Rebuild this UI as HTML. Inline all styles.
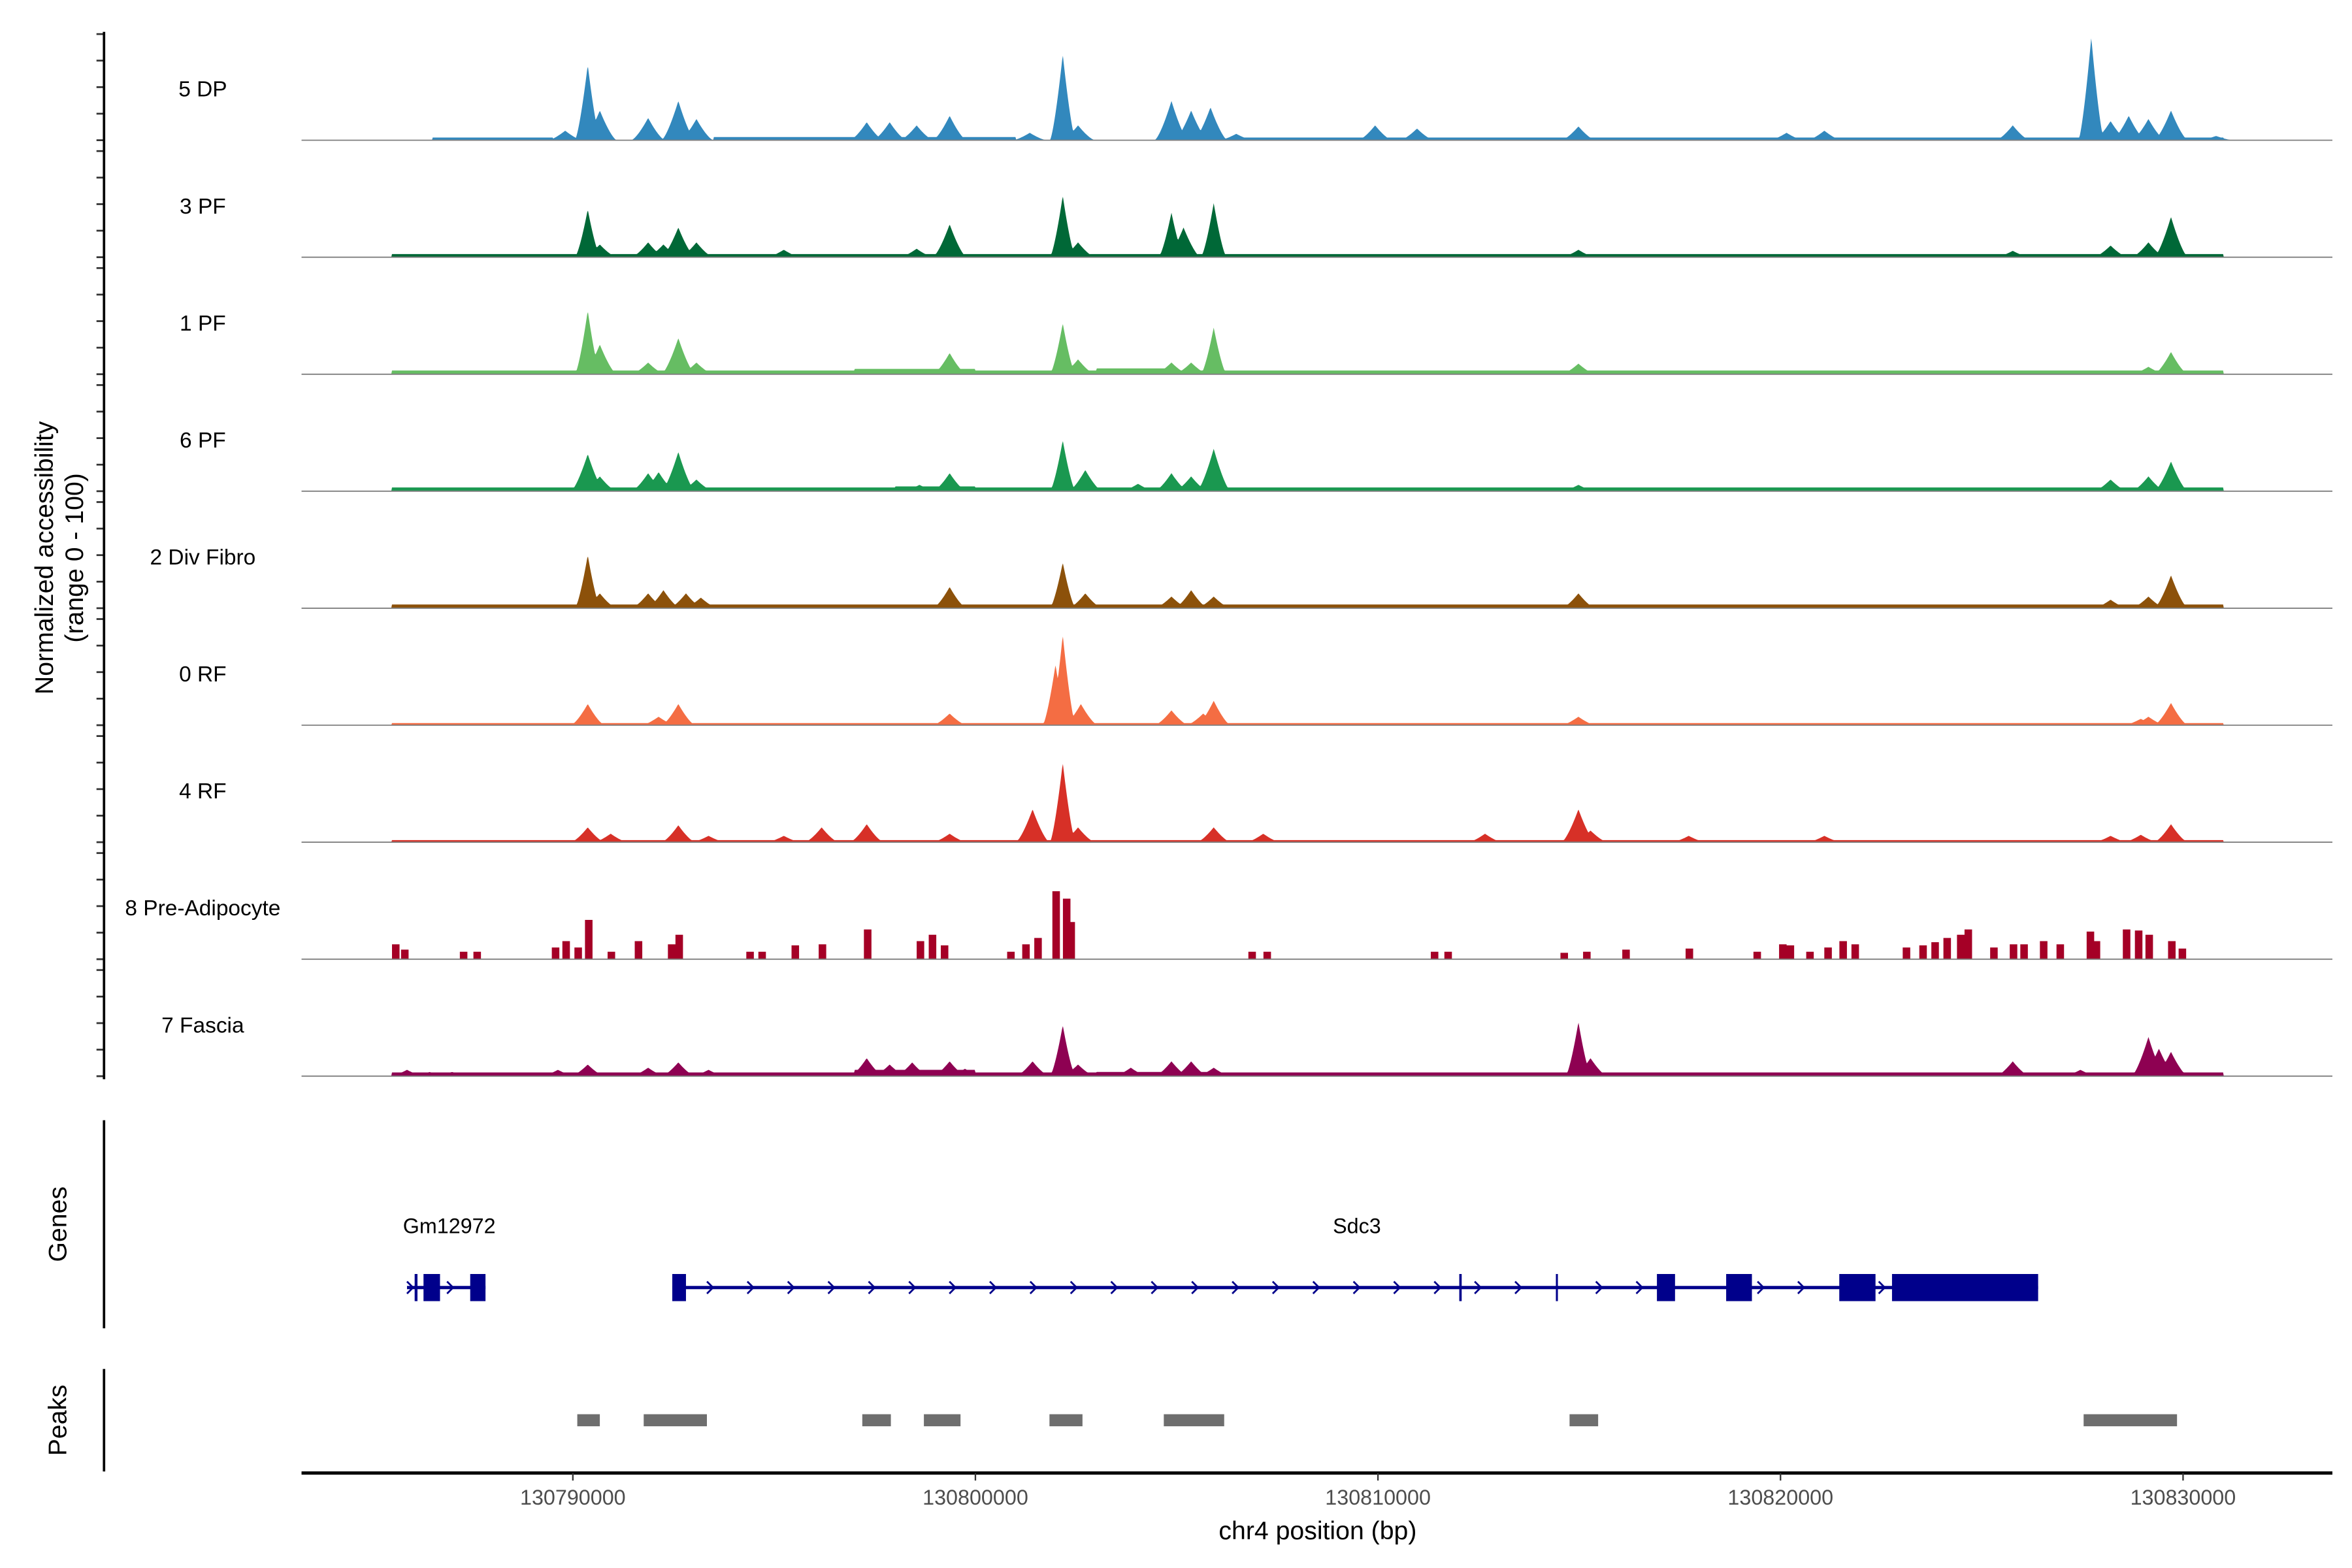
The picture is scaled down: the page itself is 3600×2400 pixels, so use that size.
<!DOCTYPE html>
<html><head><meta charset="utf-8"><style>
html,body{margin:0;padding:0;background:#fff;}
svg{display:block;}
text{font-family:"Liberation Sans",sans-serif;}
</style></head><body>
<svg id="chart" xmlns="http://www.w3.org/2000/svg" width="3600" height="2400" viewBox="0 0 1560 1040">
<g id="tracks"></g>
<g id="yaxis"></g>
<text transform="translate(35,370) rotate(-90)" text-anchor="middle" font-size="17" fill="#000">Normalized accessibility</text>
<text transform="translate(55,370) rotate(-90)" text-anchor="middle" font-size="17" fill="#000">(range 0 - 100)</text>
<line x1="69" y1="743" x2="69" y2="881" stroke="#000" stroke-width="1.6"/>
<text transform="translate(44,812) rotate(-90)" text-anchor="middle" font-size="17">Genes</text>
<g id="genes"></g>
<line x1="69" y1="908" x2="69" y2="976" stroke="#000" stroke-width="1.6"/>
<text transform="translate(44,942) rotate(-90)" text-anchor="middle" font-size="17">Peaks</text>
<g id="peaks"></g>
<g id="xaxis"></g>
<text x="874" y="1021" text-anchor="middle" font-size="17">chr4 position (bp)</text>
</svg>
<script>
// ---- data (positions in kb on chr4, values on 0-100 scale) ----
const trackNames = ["5 DP","3 PF","1 PF","6 PF","2 Div Fibro","0 RF","4 RF","8 Pre-Adipocyte","7 Fascia"];
const trackColors = ["#3288bd","#006837","#66bd63","#1a9850","#8c510a","#f46d43","#d73027","#a50026","#8e0152"];
const xTicks = [130790,130800,130810,130820,130830];
const xTickLabels = ["130790000","130800000","130810000","130820000","130830000"];
const yTickValues = [0,25,50,75,100];

const pos0 = [130789.81,130790.37,130790.67,130791.87,130792.62,130793.07,130797.30,130797.87,130798.54,130799.36,130801.35,130802.17,130802.55,130804.87,130805.36,130805.84,130806.48,130809.93,130810.97,130814.98,130820.15,130821.09,130825.77,130827.72,130828.20,130828.65,130829.14,130829.70,130830.82];
const val0 = [9,71,28,21,37,20,17,17,14,23,7,81,14,37,28,31,6,14,11,13,7,9,14,97,18,23,20,28,4];
const pos1 = [130790.37,130790.67,130791.87,130792.25,130792.62,130793.07,130795.24,130798.54,130799.36,130802.17,130802.55,130804.87,130805.17,130805.92,130814.98,130825.77,130828.20,130829.14,130829.70];
const val1 = [45,12,14,12,28,14,7,8,31,58,14,42,28,51,7,6,11,14,38];
const pos2 = [130790.37,130790.67,130791.87,130792.62,130793.07,130799.36,130802.17,130802.55,130804.87,130805.36,130805.92,130814.98,130829.14,130829.70];
const val2 = [60,28,11,34,11,20,48,14,11,11,44,10,7,21];
const pos3 = [130790.37,130790.67,130791.87,130792.13,130792.62,130793.07,130798.61,130799.36,130802.17,130802.73,130804.04,130804.87,130805.36,130805.92,130814.98,130828.20,130829.14,130829.70];
const val3 = [35,14,17,18,37,11,6,17,48,20,7,17,14,40,6,11,14,28];
const pos4 = [130790.37,130790.67,130791.87,130792.25,130792.81,130793.18,130799.36,130802.17,130802.73,130804.87,130805.36,130805.92,130814.98,130828.20,130829.14,130829.70];
const val4 = [50,14,14,17,14,10,20,43,14,11,17,11,14,8,11,31];
const pos5 = [130790.37,130792.13,130792.62,130799.36,130801.99,130802.17,130802.62,130804.87,130805.66,130805.92,130814.98,130828.95,130829.14,130829.70];
const val5 = [20,8,20,11,57,85,20,14,11,23,8,6,8,21];
const pos6 = [130790.37,130790.94,130792.62,130793.37,130795.24,130796.18,130797.30,130799.36,130801.42,130802.17,130802.55,130805.92,130807.15,130812.66,130814.98,130815.28,130817.72,130821.09,130828.20,130828.95,130829.70];
const val6 = [14,8,16,6,6,14,17,8,31,75,14,14,8,8,31,11,6,6,6,7,17];
const pos7 = [130785.58,130785.81,130787.27,130787.60,130789.55,130789.81,130790.11,130790.37,130790.94,130791.61,130792.43,130792.62,130794.38,130794.68,130795.51,130796.18,130797.30,130798.61,130798.91,130799.21,130800.86,130801.24,130801.54,130801.99,130802.25,130802.36,130806.85,130807.23,130811.39,130811.72,130814.61,130815.17,130816.14,130817.72,130819.40,130820.04,130820.22,130820.71,130821.16,130821.54,130821.84,130823.11,130823.52,130823.82,130824.12,130824.46,130824.64,130825.28,130825.77,130826.03,130826.52,130826.93,130827.68,130827.83,130828.58,130828.88,130829.14,130829.70,130829.96];
const val7 = [14,9,7,7,11,17,11,37,7,17,14,23,7,7,13,14,28,17,23,13,7,14,20,64,57,35,7,7,7,7,6,7,9,10,7,14,13,7,11,17,14,11,13,16,20,23,28,11,14,14,17,14,26,17,28,27,23,17,10];
const pos8 = [130785.88,130786.44,130787.00,130789.63,130790.37,130791.87,130792.62,130793.37,130797.30,130797.87,130798.43,130799.36,130799.74,130801.42,130802.17,130802.55,130803.86,130804.87,130805.36,130805.92,130814.98,130815.28,130825.77,130827.45,130829.14,130829.40,130829.70];
const val8 = [6,4,4,6,11,8,13,6,17,11,13,14,7,14,48,11,8,14,14,8,51,17,14,6,37,26,23];
// low background coverage: [start kb, end kb, level]
const floor0 = [[130786.5,130789.5,2.5],[130793.5,130801,3],[130806.5,130831,2.5]];
const floor1 = [[130785.5,130831,3]];
const floor2 = [[130785.5,130831,3.5],[130797,130800,5],[130803,130805,5.5]];
const floor3 = [[130785.5,130831,3.5],[130798,130800,4.5]];
const floor4 = [[130785.5,130831,3.5]];
const floor5 = [[130785.5,130831,2]];
const floor6 = [[130785.5,130831,2]];
const floor7 = [];
const floor8 = [[130785.5,130831,3.5],[130797,130800,6],[130803,130806,4]];

// gene model
const gmLine = [130785.88,130787.83];
const gmExons = [[130786.07,130786.14],[130786.29,130786.70],[130787.45,130787.83]];
const sdcLine = [130792.47,130826.40];
const sdcExons = [[130792.47,130792.81],[130812.02,130812.08],[130814.42,130814.47],[130816.93,130817.38],[130818.65,130819.29],[130821.46,130822.36],[130822.77,130826.40]];
const peakStarts = [130790.11,130791.76,130797.19,130798.72,130801.84,130804.68,130814.76,130827.53];
const peakEnds   = [130790.67,130793.33,130797.90,130799.63,130802.66,130806.18,130815.47,130829.85];
// ---- end data ----

const NS="http://www.w3.org/2000/svg";
const X0=200,X1=1547,D0=130783.26,D1=130833.71;
function xs(kb){return X0+(kb-D0)/(D1-D0)*(X1-X0);}
const TH=70.4;
function base(i){return 93+i*77.6;}
function mk(tag,attrs,parent){const e=document.createElementNS(NS,tag);for(const k in attrs)e.setAttribute(k,attrs[k]);parent.appendChild(e);return e;}

const allPos=[pos0,pos1,pos2,pos3,pos4,pos5,pos6,pos7,pos8];
const allVal=[val0,val1,val2,val3,val4,val5,val6,val7,val8];
const allFloor=[floor0,floor1,floor2,floor3,floor4,floor5,floor6,floor7,floor8];
const tracks=document.getElementById('tracks');
const yaxis=document.getElementById('yaxis');
for(let i=0;i<9;i++){
  const b=base(i), P=allPos[i], V=allVal[i], F=allFloor[i];
  const blocky=(i===7);
  let d="M"+X0+","+b;
  const step=blocky?1.0:0.5;
  for(let x=X0;x<=X1;x+=step){
    const kb=D0+(x-X0)/(X1-X0)*(D1-D0);
    let v=0;
    for(const f of F){if(kb>=f[0]&&kb<=f[1])v=Math.max(v,f[2]);}
    for(let j=0;j<P.length;j++){
      const dd=Math.abs(kb-P[j]);
      let k;
      if(blocky){k=dd<0.09?1:0;}
      else{const w=V[j]>40?0.32:0.42;k=Math.pow(Math.max(0,1-dd/w),1.4);}
      v=Math.max(v,V[j]*k);
    }
    const y=b-v/100*TH;
    if(blocky){d+=" L"+x.toFixed(1)+","+y.toFixed(2)+" L"+(x+step).toFixed(1)+","+y.toFixed(2);}
    else d+=" L"+x.toFixed(1)+","+y.toFixed(2);
  }
  d+=" L"+X1+","+b+" Z";
  const g=mk('g',{},tracks);
  
  
  const p=mk('path',{d:d,fill:trackColors[i]},g);
  
  
  const bl=mk('line',{x1:X0,x2:X1,y1:b,y2:b,stroke:'#7f7f7f','stroke-width':0.8},g);
  
  
  const t=mk('text',{x:134.5,y:b-29,'text-anchor':'middle','font-size':14.5},g);
  t.textContent=trackNames[i];
  
  
  for(const tv of yTickValues){
    const ty=b-tv/100*TH;
    const tk=mk('line',{x1:64,x2:69,y1:ty,y2:ty,stroke:'#333','stroke-width':1.2},yaxis);
    
    
  }
}
const yl=mk('line',{x1:69,x2:69,y1:base(0)-TH-1.5,y2:base(8)+2,stroke:'#000','stroke-width':1.6},yaxis);



// genes
const genes=document.getElementById('genes');
const GY=854;
function chevrons(a,b,skip){
  for(let x=a;x<b;x+=26.8){
    let inside=false;for(const s of skip){if(x>s[0]-4&&x<s[1]+4)inside=true;}
    if(inside)continue;
    const c=mk('path',{d:`M${x-2},${GY-4} L${x+2},${GY} L${x-2},${GY+4}`,fill:'none',stroke:'#00008b','stroke-width':1.2},genes);
    
    
  }
}
const gl=mk('line',{x1:xs(gmLine[0]),x2:xs(gmLine[1]),y1:GY,y2:GY,stroke:'#00008b','stroke-width':2.2},genes);


for(const e of gmExons){const r=mk('rect',{x:xs(e[0]),y:GY-9,width:Math.max(1.2,xs(e[1])-xs(e[0])),height:18,fill:'#00008b'},genes);

}
chevrons(xs(gmLine[0])+2,xs(gmLine[0])+3,[]);
chevrons(xs(130786.95),xs(130787.0),[]);
const sl=mk('line',{x1:xs(sdcLine[0]),x2:xs(sdcLine[1]),y1:GY,y2:GY,stroke:'#00008b','stroke-width':2.2},genes);


const sk=sdcExons.map(e=>[xs(e[0]),xs(e[1])]);
for(const e of sdcExons){const w=xs(e[1])-xs(e[0]);
const r=mk('rect',{x:xs(e[0]),y:GY-9,width:Math.max(1.2,w),height:18,fill:'#00008b'},genes);

}
chevrons(xs(sdcLine[0])+25,xs(130822.8),sk);
const g1=mk('text',{x:298,y:818,'text-anchor':'middle','font-size':14},genes);g1.textContent='Gm12972';


const g2=mk('text',{x:900,y:818,'text-anchor':'middle','font-size':14},genes);g2.textContent='Sdc3';



// peaks
const peaks=document.getElementById('peaks');
for(let i=0;i<peakStarts.length;i++){
  const r=mk('rect',{x:xs(peakStarts[i]),y:938,width:xs(peakEnds[i])-xs(peakStarts[i]),height:8,fill:'#6e6e6e'},peaks);
  
  
}

// x axis
const xa=document.getElementById('xaxis');
const xl=mk('line',{x1:X0,x2:X1,y1:977,y2:977,stroke:'#000','stroke-width':2.2},xa);


for(let i=0;i<xTicks.length;i++){
  const x=xs(xTicks[i]);
  const t=mk('line',{x1:x,x2:x,y1:977,y2:982,stroke:'#333','stroke-width':1},xa);
  
  
  const l=mk('text',{x:x,y:998,'text-anchor':'middle','font-size':14,fill:'#4d4d4d'},xa);
  l.textContent=xTickLabels[i];
  
  
}
</script>
</body></html>
